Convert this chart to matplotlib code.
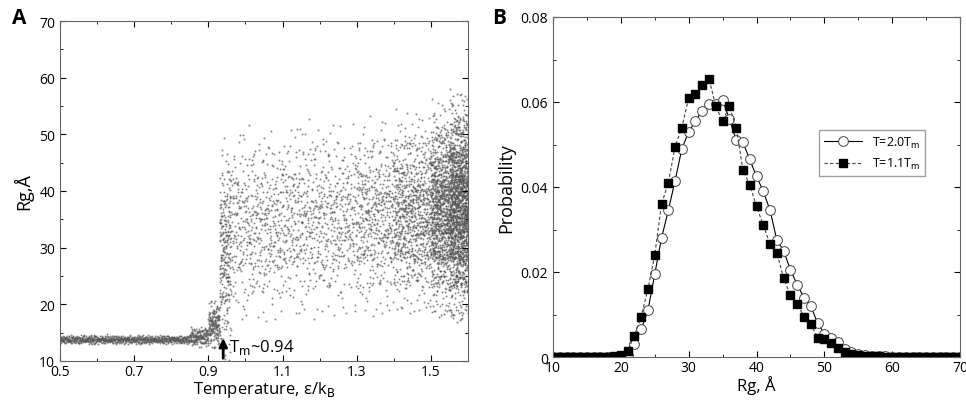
import numpy as np
import matplotlib
matplotlib.use("Agg")
import matplotlib.pyplot as plt

plt.rcParams['font.family'] = ['Open Sans', 'DejaVu Sans']

# panel A: summary of the scatter per temperature band
band_lo = [0.50, 0.85, 0.90, 0.93, 0.96, 1.10, 1.30, 1.40, 1.50, 1.55]
band_hi = [0.85, 0.90, 0.93, 0.96, 1.10, 1.30, 1.40, 1.50, 1.55, 1.60]
band_rg = [13.8, 14.3, 16.5, 29.0, 34.0, 35.0, 35.5, 36.0, 36.5, 37.0]
band_spread = [0.35, 0.8, 1.8, 8.0, 7.0, 7.0, 7.0, 7.0, 7.5, 8.0]
band_count = [700, 150, 160, 260, 450, 650, 450, 800, 900, 1500]

# panel B
rg = list(range(10, 71))
p_hot = [0]*11 + [0.0005, 0.003, 0.0065, 0.011, 0.0195, 0.028, 0.0345, 0.0415, 0.049,
                  0.053, 0.0555, 0.058, 0.0595, 0.0595, 0.0605, 0.056, 0.051, 0.0505,
                  0.0465, 0.0425, 0.039, 0.0345, 0.0275, 0.025, 0.0205, 0.017, 0.014,
                  0.012, 0.008, 0.0055, 0.0045, 0.0035, 0.002, 0.0012, 0.0008, 0.0005,
                  0.0003, 0.0003, 0.0003] + [0.0001]*11
p_warm = [0]*9 + [0.0002, 0.0005, 0.0015, 0.005, 0.0095, 0.016, 0.024, 0.036, 0.041,
                  0.0495, 0.054, 0.061, 0.062, 0.064, 0.0655, 0.059, 0.0555, 0.059,
                  0.054, 0.044, 0.0405, 0.0355, 0.031, 0.0265, 0.0245, 0.0185, 0.0145,
                  0.0125, 0.0095, 0.0078, 0.0045, 0.0042, 0.0033, 0.0022, 0.0012,
                  0.0008, 0.0004, 0.0002, 0.0002, 0.0002] + [0]*12


def halton(n, base, start=1):
    out = np.zeros(n)
    for k in range(n):
        f, r, i = 1.0, 0.0, k + start
        while i > 0:
            f /= base
            r += f * (i % base)
            i //= base
        out[k] = r
    return out


fig = plt.figure(figsize=(9.66, 4.02), dpi=100)
axA = fig.add_axes([60/966, 1-362/402, 408/966, 340/402])
axB = fig.add_axes([553/966, 1-358/402, 407/966, 340/402])

# spread the points of each band evenly (Halton sequence, deterministic)
xs, ys = [], []
for j, (lo, hi, c, s, n) in enumerate(zip(band_lo, band_hi, band_rg, band_spread, band_count)):
    st = 1 + 37 * j
    u0, u1, u2, u3 = halton(n, 2, st), halton(n, 3, st), halton(n, 5, st), halton(n, 7, st)
    xs.append(lo + (hi - lo) * u0)
    ys.append(c + s * (u1 + u2 + u3 - 1.5) * 2.0)
xs = np.concatenate(xs)
ys = np.concatenate(ys)
axA.scatter(xs, ys, s=2, c='#555555', alpha=0.7, linewidths=0)
axA.annotate('', xy=(0.94, 14.5), xytext=(0.94, 10),
             arrowprops=dict(arrowstyle='-|>', color='black', lw=2, mutation_scale=12))
axA.text(0.955, 12.5, r'T$_\mathrm{m}$~0.94', fontsize=12, va='center')
axA.set_xlim(0.5, 1.6)
axA.set_ylim(10, 70)
axA.set_xticks([0.5, 0.7, 0.9, 1.1, 1.3, 1.5])
axA.set_xticks(np.arange(0.5, 1.61, 0.1), minor=True)
axA.set_yticks(range(10, 71, 10))
axA.set_yticks(range(15, 70, 10), minor=True)
axA.set_xlabel(r'Temperature, ε/k$_\mathrm{B}$', fontsize=12, labelpad=0)
axA.set_ylabel('Rg,Å', fontsize=13)

axB.plot(rg, p_hot, '-', color='black', lw=0.8, marker='o', ms=7,
         mfc='white', mec='#444444', mew=0.7, label=r'T=2.0T$_\mathrm{m}$')
axB.plot(rg, p_warm, '--', color='#444444', lw=0.8, dashes=(3, 2), marker='s', ms=6,
         mfc='black', mec='black', label=r'T=1.1T$_\mathrm{m}$')
axB.set_xlim(10, 70)
axB.set_ylim(0, 0.08)
axB.set_xticks(range(10, 71, 10))
axB.set_xticks(range(15, 70, 10), minor=True)
axB.set_yticks([0, 0.02, 0.04, 0.06, 0.08])
axB.set_yticklabels(['0', '0.02', '0.04', '0.06', '0.08'])
axB.set_yticks([0.01, 0.03, 0.05, 0.07], minor=True)
axB.set_xlabel('Rg, Å', fontsize=12, labelpad=0)
axB.set_ylabel('Probability', fontsize=13)
axB.legend(loc='center right', bbox_to_anchor=(0.93, 0.6), fontsize=9,
           fancybox=False, edgecolor='#888888', handlelength=3, borderpad=0.4)

for ax in (axA, axB):
    ax.tick_params(which='both', direction='in', top=True, right=True, labelsize=10)
    ax.tick_params(which='major', length=4)
    ax.tick_params(which='minor', length=2.5)
    ax.tick_params(axis='x', pad=2)
    for sp in ax.spines.values():
        sp.set_color('#666666')

fig.text(12/966, 1-18/402, 'A', fontsize=15, fontweight='bold', va='center')
fig.text(492/966, 1-18/402, 'B', fontsize=15, fontweight='bold', va='center')

fig.savefig('out.png', dpi=100)
